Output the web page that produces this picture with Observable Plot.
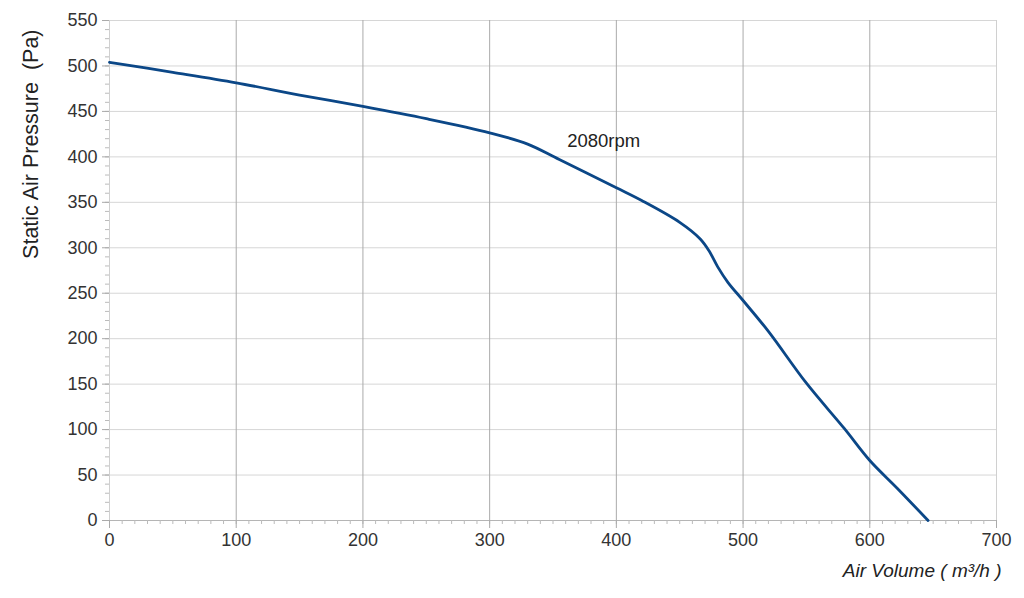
<!DOCTYPE html>
<html><head><meta charset="utf-8">
<script src="https://cdn.jsdelivr.net/npm/d3@7"></script>
<script src="https://cdn.jsdelivr.net/npm/@observablehq/plot@0.6"></script>
<style>body{margin:0;background:#fff;font-family:"Liberation Sans",Arial,sans-serif}</style>
</head><body><div id="chart"></div>
<script>
const airVolume = [0, 50, 100, 150, 200, 250, 300, 330, 355, 400, 420, 450, 466, 473, 480, 488, 500, 520, 550, 580, 600, 622, 646];
const pressure  = [504, 493, 481.5, 468, 455.5, 442, 426.5, 414, 397, 366, 352, 328, 310, 297, 279, 262, 242, 208, 151, 101, 66, 35, 0];
const xTicks = [0, 100, 200, 300, 400, 500, 600, 700];
const yTicks = [0, 50, 100, 150, 200, 250, 300, 350, 400, 450, 500, 550];
const seriesLabel = "2080rpm";
const labelPos = {x: 390, y: 417};

const data = airVolume.map((v, i) => ({v, p: pressure[i]}));
const minor = d3.range(0, 701, 10);
const minorY = d3.range(0, 551, 10);

const chart = Plot.plot({
  width: 1024, height: 598,
  marginLeft: 109, marginRight: 28, marginTop: 20, marginBottom: 78,
  style: {fontFamily: "Liberation Sans, Arial, sans-serif", fontSize: "18px", color: "#333", background: "#fff"},
  x: {type: "linear", domain: [0, 700], label: null, axis: null},
  y: {type: "linear", domain: [0, 550], label: null, axis: null},
  marks: [
    Plot.gridY(yTicks, {stroke: "#d6d6d6", strokeOpacity: 1, strokeWidth: 1}),
    Plot.gridX(xTicks.filter(d => d > 0 && d < 700), {stroke: "#ababab", strokeOpacity: 1, strokeWidth: 1}),
    Plot.ruleX([0, 700], {stroke: "#d0d0d0"}),
    Plot.ruleY([0], {stroke: "#b5b5b5"}),
    Plot.axisX(minor, {tickSize: 4, stroke: "#bbb", tickFormat: () => ""}),
    Plot.axisX(xTicks, {tickSize: 8, stroke: "#aaa", tickPadding: 5, fontSize: 18, fill: "#333", tickFormat: d => d}),
    Plot.axisY(minorY, {tickSize: 4, stroke: "#bbb", tickFormat: () => ""}),
    Plot.axisY(yTicks, {tickSize: 7, stroke: "#aaa", tickPadding: 5, fontSize: 18, fill: "#333", tickFormat: d => d}),
    Plot.line(data, {x: "v", y: "p", curve: "catmull-rom", stroke: "#0b4787", strokeWidth: 2.8}),
    Plot.text([seriesLabel], {x: labelPos.x, y: labelPos.y, text: d => d, fontSize: 18.5, fill: "#222"}),
    Plot.text(["Static Air Pressure  (Pa)"], {frameAnchor: "top-left", dx: -87, dy: 9, rotate: -90, textAnchor: "end", fontSize: 21.5, fill: "#222", text: d => d}),
    Plot.text(["Air Volume ( m³/h )"], {frameAnchor: "bottom-right", dx: 5, dy: 56, textAnchor: "end", fontSize: 19, fontStyle: "italic", fill: "#222", text: d => d})
  ]
});
document.getElementById("chart").append(chart);
</script>
</body></html>
